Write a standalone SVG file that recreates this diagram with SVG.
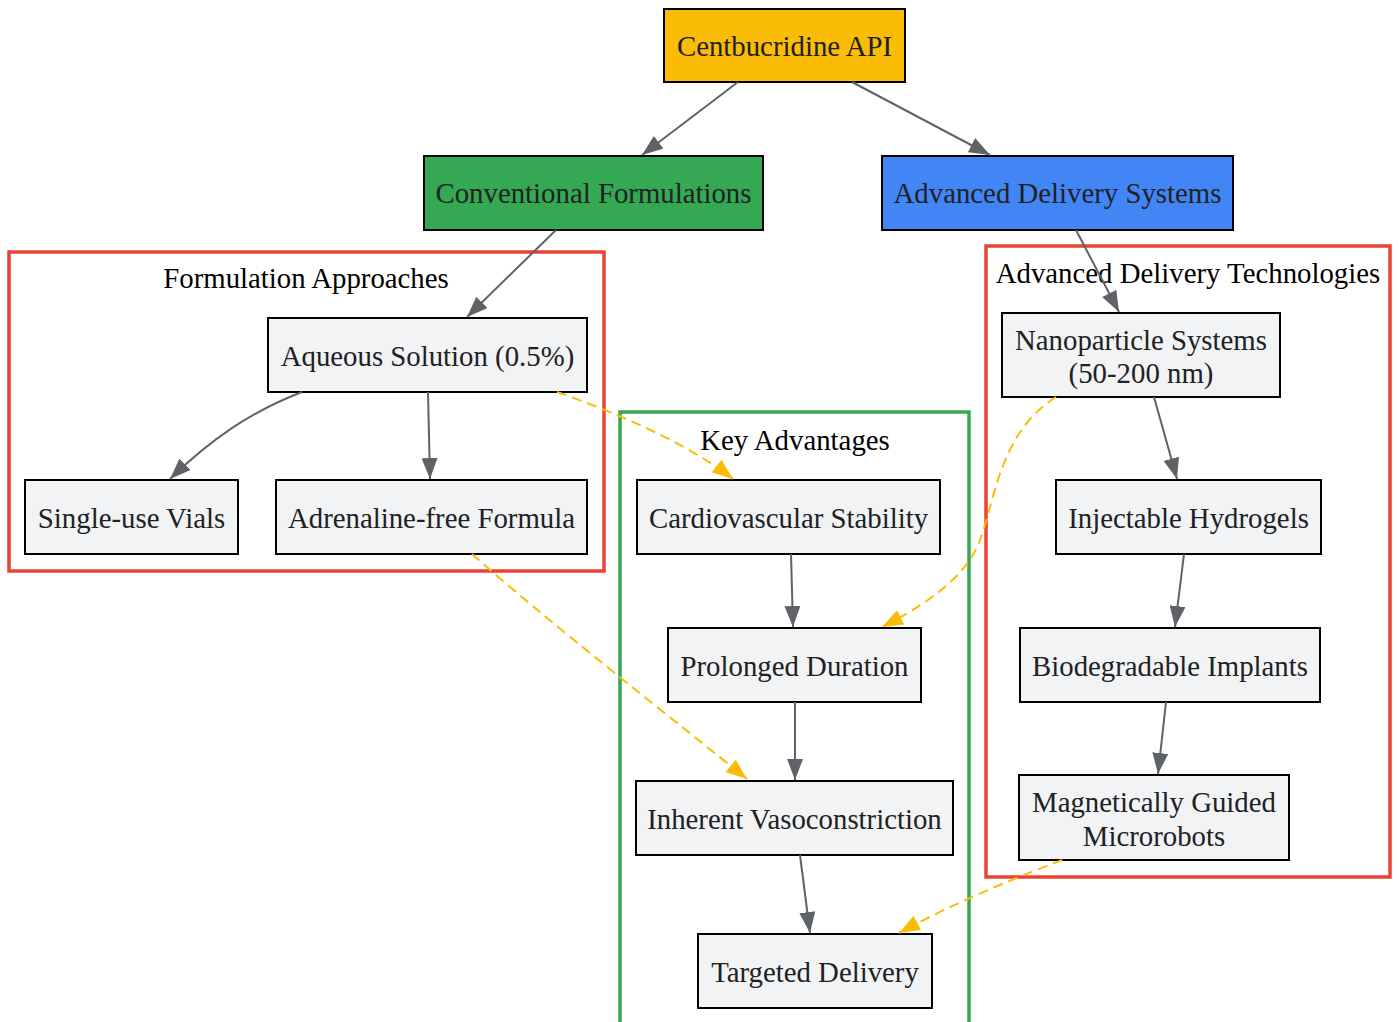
<svg xmlns="http://www.w3.org/2000/svg" width="1399" height="1022" viewBox="0 0 1399 1022">
<defs>
<style>
.node rect{stroke:#000;stroke-width:2}
.node text{font-family:"Liberation Serif","Times New Roman",serif;font-size:28.8px;fill:#202124;text-anchor:middle}
.plain rect{fill:#f1f3f4}
.cluster rect{fill:none;stroke-width:3.5}
.cluster text{font-family:"Liberation Serif","Times New Roman",serif;font-size:28.8px;fill:#000;text-anchor:middle}
.e{fill:none;stroke:#5f6368;stroke-width:2;marker-end:url(#ag)}
.d{fill:none;stroke:#fbbc05;stroke-width:2;stroke-dasharray:10,6;marker-end:url(#ay)}
</style>
<marker id="ag" markerUnits="userSpaceOnUse" markerWidth="22" markerHeight="16" refX="21" refY="8" orient="auto"><path d="M0,0 L21,8 L0,16 z" fill="#5f6368"/></marker>
<marker id="ay" markerUnits="userSpaceOnUse" markerWidth="22" markerHeight="16" refX="21" refY="8" orient="auto"><path d="M0,0 L21,8 L0,16 z" fill="#fbbc05"/></marker>
</defs>
<rect width="1399" height="1022" fill="#fff"/>
<g id="clusters">
<g id="cluster_formulation" class="cluster"><rect x="9" y="252" width="595" height="319" stroke="#ea4335"/><text x="306" y="288">Formulation Approaches</text></g>
<g id="cluster_advantages" class="cluster"><rect x="620" y="412" width="349" height="620" stroke="#34a853"/><text x="795" y="450">Key Advantages</text></g>
<g id="cluster_delivery" class="cluster"><rect x="986" y="246" width="404" height="631" stroke="#ea4335"/><text x="1188" y="283">Advanced Delivery Technologies</text></g>
</g>
<g id="nodes">
<g id="api" class="node"><rect x="664" y="9" width="241" height="73" fill="#fbbc05"/><text x="784.5" y="56">Centbucridine API</text></g>
<g id="conv" class="node"><rect x="424" y="156" width="339" height="74" fill="#34a853"/><text x="593.5" y="203">Conventional Formulations</text></g>
<g id="adv" class="node"><rect x="882" y="156" width="351" height="74" fill="#4285f4"/><text x="1057.5" y="203">Advanced Delivery Systems</text></g>
<g id="aqueous" class="node plain"><rect x="268" y="318" width="319" height="74"/><text x="427.5" y="366">Aqueous Solution (0.5%)</text></g>
<g id="vials" class="node plain"><rect x="25" y="480" width="213" height="74"/><text x="131.5" y="528">Single-use Vials</text></g>
<g id="adrenaline" class="node plain"><rect x="276" y="480" width="311" height="74"/><text x="431.5" y="528">Adrenaline-free Formula</text></g>
<g id="cardio" class="node plain"><rect x="637" y="480" width="303" height="74"/><text x="788.5" y="528">Cardiovascular Stability</text></g>
<g id="prolonged" class="node plain"><rect x="668" y="628" width="253" height="74"/><text x="794.5" y="676">Prolonged Duration</text></g>
<g id="vaso" class="node plain"><rect x="636" y="781" width="317" height="74"/><text x="794.5" y="829">Inherent Vasoconstriction</text></g>
<g id="targeted" class="node plain"><rect x="698" y="934" width="234" height="74"/><text x="815" y="982">Targeted Delivery</text></g>
<g id="nano" class="node plain"><rect x="1002" y="313" width="278" height="84"/><text x="1141" y="350">Nanoparticle Systems</text><text x="1141" y="383">(50-200 nm)</text></g>
<g id="hydrogels" class="node plain"><rect x="1056" y="480" width="265" height="74"/><text x="1188.5" y="528">Injectable Hydrogels</text></g>
<g id="implants" class="node plain"><rect x="1020" y="628" width="300" height="74"/><text x="1170" y="676">Biodegradable Implants</text></g>
<g id="microrobots" class="node plain"><rect x="1019" y="775" width="270" height="85"/><text x="1154" y="812">Magnetically Guided</text><text x="1154" y="846">Microrobots</text></g>
</g>
<g id="connectors">
<path class="e" d="M738,82 L642,155"/>
<path class="e" d="M852,82 L990,155"/>
<path class="e" d="M556,230 L467,317"/>
<path class="e" d="M1076,230 L1119,312"/>
<path class="e" d="M302,392 C250,412 210,440 170,479"/>
<path class="e" d="M428,392 L430,479"/>
<path class="e" d="M791,554 L793,627"/>
<path class="e" d="M795,702 L795,780"/>
<path class="e" d="M800,855 L810,933"/>
<path class="e" d="M1154,397 L1177,479"/>
<path class="e" d="M1184,554 L1175,627"/>
<path class="e" d="M1166,702 L1158,774"/>
<path class="d" d="M557,392 C620,414 690,445 733,479"/>
<path class="d" d="M472,554 C540,615 680,725 747,779"/>
<path class="d" d="M1056,397 C1000,432 995,500 980,540 C966,578 925,605 882,627"/>
<path class="d" d="M1062,860 C1010,880 950,905 899,933"/>
</g>
</svg>
